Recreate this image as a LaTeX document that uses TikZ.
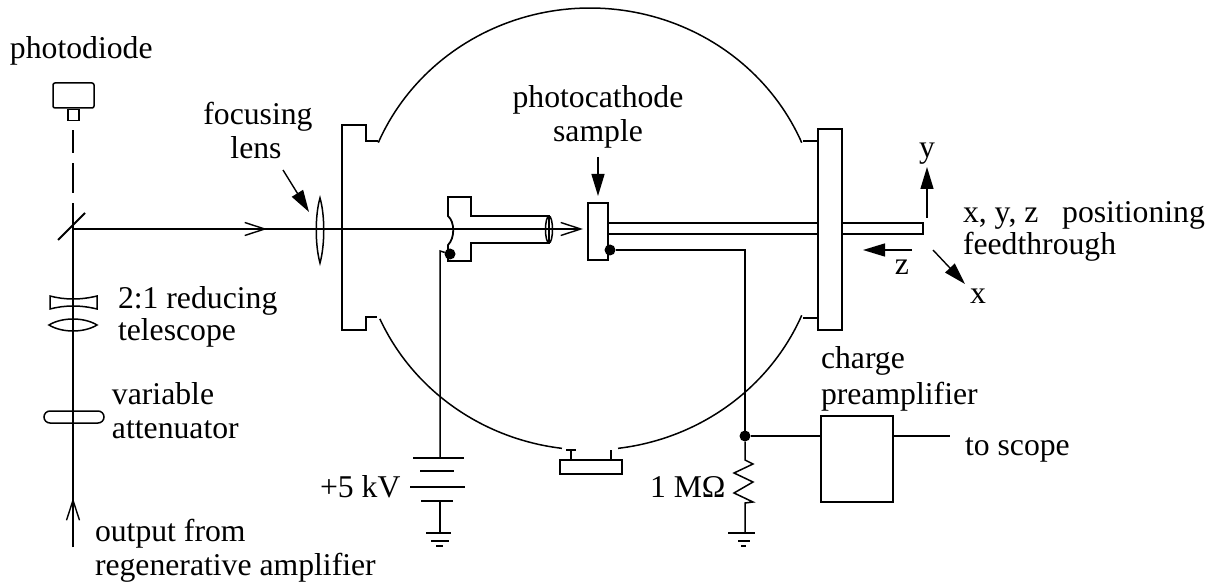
\documentclass[tikz,border=0pt]{standalone}
\usepackage{fontspec}
\setmainfont{Liberation Serif}
\usetikzlibrary{positioning, arrows.meta}

\tikzset{
  box/.style = {draw, fill = white, rectangle, inner sep = 0pt, outer sep = 0pt},
  lbl/.style = {anchor = base west, inner sep = 0pt, outer sep = 0pt},
  lblc/.style = {anchor = base, inner sep = 0pt, outer sep = 0pt},
  dot/.style = {circle, fill = black, inner sep = 0pt, outer sep = 0pt, minimum size = 5.5pt},
  bigtip/.style = {-{Stealth[inset = 0pt, length = 11pt, width = 6.5pt]}, line width = .7pt},
  opentip/.style = {-{Straight Barb[length = 10pt, width = 6.5pt]}, line width = .7pt}
}

\begin{document}
\begin{tikzpicture}[x = .5pt, y = -.5pt, line width = .75pt, font = \fontsize{15.85}{17}\selectfont]
  \useasboundingbox (0,0) rectangle (1217,583);

  % photodiode and the vertical beam
  \node (photodiode) [lbl] at (10,59) {photodiode};
  \node (diode) [box, rounded corners = 1pt, minimum width = 20.5pt, minimum height = 12.5pt] at (73.5,95.5) {};
  \node (window) [box, minimum width = 5.5pt, minimum height = 5.5pt, below = .8pt of diode] {};
  \coordinate (splitter) at (73,229);
  \coordinate (beamin) at (73,547);
  \coordinate (beamup) at (73,498);
  \coordinate (beamtip) at (267,229);
  \draw [dash pattern = on 13pt off 5pt on 15pt off 5pt on 11.5pt off 50pt] (splitter) -- (73,130);
  \draw (beamin) -- (splitter);
  \draw [opentip] (beamin) -- (beamup);
  \draw [line width = 1pt] (58,240) -- (85,213);

  % telescope
  \draw (50,296) .. controls (65,300) and (81,300) .. (97,296) -- (97,309) .. controls (81,305) and (65,305) .. (50,309) -- cycle;
  \draw (49,325) .. controls (62,317) and (84,317) .. (97,325) .. controls (84,333) and (62,333) .. (49,325) -- cycle;
  \node (attenuator) [draw, rounded corners = 3pt, inner sep = 0pt, minimum width = 30pt, minimum height = 6pt] at (74,417) {};
  \node (telescope1) [lbl] at (118,308) {2:1 reducing};
  \node (telescope2) [lbl] at (118,340) {telescope};
  \node (variable) [lbl] at (112,404) {variable};
  \node (attlabel) [lbl] at (112,438) {attenuator};
  \node (output) [lbl] at (95,541) {output from};
  \node (regen) [lbl] at (95,575) {regenerative amplifier};

  % chamber
  \draw plot [domain = 157:23, samples = 90] ({590 + 230*cos(\x)}, {229 - 221*sin(\x)});
  \draw plot [domain = 204:263, samples = 50] ({590 + 230*cos(\x)}, {229 - 221*sin(\x)});
  \draw plot [domain = 277:337, samples = 50] ({590 + 230*cos(\x)}, {229 - 221*sin(\x)});
  \draw (378,141) -- (366,141) -- (366,125) -- (342,125) -- (342,330) -- (366,330) -- (366,317) -- (377,317);
  \draw (803,141) -- (818,141);
  \draw (803,318) -- (818,318);

  % port at the bottom
  \node (port) [box, minimum width = 31pt, minimum height = 7pt] at (591,467) {};
  \draw (571,460) -- (571,450) (566,450) -- (576,450);
  \draw (611,460) -- (611,450);

  % rod and flange
  \node (rod) [box, minimum width = 158pt, minimum height = 5.5pt] at (765,228.5) {};
  \node (flange) [box, minimum width = 12pt, minimum height = 100.5pt] at (830,229.5) {};

  % gun
  \draw [fill = white, line width = .9pt] (448,197) -- (471,197) -- (471,216) -- (549,216) -- (549,243) -- (471,243) -- (471,261) -- (448,261) -- (448,245) .. controls (455,238) and (455,222) .. (448,216) -- cycle;
  \draw (549,229.5) ellipse [x radius = 3.5, y radius = 13.5];

  % sample
  \node (sample) [box, minimum width = 10pt, minimum height = 28.5pt] at (598,231.5) {};

  % beam
  \coordinate (beamend) at (583,229);
  \draw [opentip] (splitter) -- (beamtip);
  \draw [opentip] (splitter) -- (beamend);
  \draw (320,198) .. controls (315,215) and (315,245) .. (320,263) .. controls (325,245) and (325,215) .. (320,198) -- cycle;

  % labels with arrows
  \node (focusing) [lblc] at (258,125) {focusing};
  \node (lens) [lblc] at (256,159) {lens};
  \node (photocathode) [lblc] at (598,108) {photocathode};
  \node (samplelabel) [lblc] at (598,142) {sample};
  \coordinate (lensfoot) at (283,170);
  \coordinate (lenstip) at (309,212);
  \coordinate (samplefoot) at (598,157);
  \coordinate (sampletip) at (598,196);
  \draw [bigtip] (lensfoot) -- (lenstip);
  \draw [bigtip] (samplefoot) -- (sampletip);

  % high voltage
  \node (gunpoint) [dot] at (450,254) {};
  \coordinate (gunwire) at (440,251);
  \coordinate (plateA) at (440,458);
  \coordinate (plateD) at (440,501);
  \coordinate (groundA) at (440,533);
  \draw (gunpoint) -- (gunwire) -- (plateA);
  \draw [line width = 1pt] (413,458) -- (464,458);
  \draw [line width = 1pt] (420,471) -- (454,471);
  \draw [line width = 1pt] (410,487) -- (465,487);
  \draw (421,501) -- (453,501);
  \draw (plateD) -- (groundA);
  \draw [line width = 1pt] (426,533) -- (451,533);
  \draw (431,541) -- (449,541);
  \draw (436,546) -- (443,546);
  \node (voltage) [lbl] at (320,497) {+5 kV};

  % signal
  \node (samplepoint) [dot] at (610,250) {};
  \node (junction) [dot] at (745,436) {};
  \coordinate (corner) at (745,250);
  \coordinate (ztop) at (745,460);
  \coordinate (zbottom) at (745,503);
  \coordinate (groundB) at (745,533);
  \draw (samplepoint) -- (corner) -- (junction);
  \draw (junction) -- (ztop) -- (753,464) -- (734,473) -- (753,482) -- (734,493) -- (753,502) -- (zbottom) -- (groundB);
  \draw [line width = 1pt] (728,533) -- (755,533);
  \draw (738,541) -- (750,541);
  \draw (741,546) -- (746,546);
  \node (resistor) [lbl] at (650,497) {1 MΩ};

  % preamplifier
  \node (preamp) [box, minimum width = 36pt, minimum height = 43pt] at (857,459) {};
  \coordinate (scope) at (950,436);
  \draw (junction) -- (junction -| preamp.west);
  \draw (scope -| preamp.east) -- (scope);
  \node (charge) [lbl] at (821,368) {charge};
  \node (preamplifier) [lbl] at (821,404) {preamplifier};
  \node (toscope) [lbl] at (965,455) {to scope};

  % axes
  \coordinate (origy) at (927,218);
  \coordinate (tipy) at (927,167);
  \coordinate (origz) at (912,250);
  \coordinate (tipz) at (863,250);
  \coordinate (origx) at (933,250);
  \coordinate (tipx) at (965,284);
  \draw [bigtip] (origy) -- (tipy);
  \draw [bigtip] (origz) -- (tipz);
  \draw [bigtip] (origx) -- (tipx);
  \node (ylabel) [lblc] at (927,158) {y};
  \node (zlabel) [lblc] at (902,274) {z};
  \node (xlabel) [lblc] at (978,303) {x};
  \node (feed1) [lbl] at (963,223) {x, y, z\hspace{.5em} positioning};
  \node (feed2) [lbl] at (963,255) {feedthrough};
\end{tikzpicture}
\end{document}
